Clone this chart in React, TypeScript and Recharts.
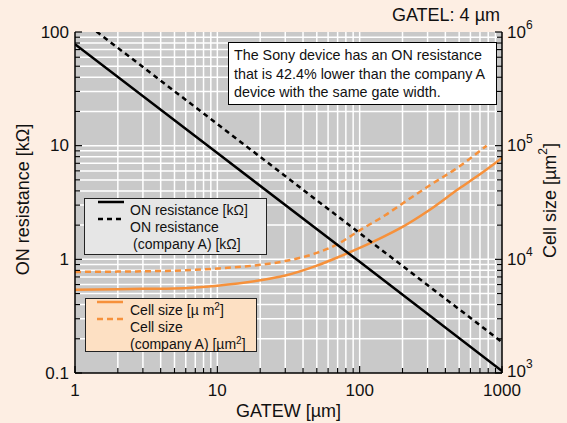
import React from 'react'
import { ComposedChart, Line, XAxis, YAxis, ReferenceLine, ReferenceArea } from 'recharts'

// ON resistance [kΩ] vs gate width (left axis)
const gateW = [1, 10, 100, 1000]
const onRes = [78, 8.6, 0.95, 0.104]
const onResA = [141, 15.5, 1.7, 0.187]

// cell size [µm²] vs gate width (right axis)
const cellW = [1, 2, 3, 5, 10, 20, 30, 50, 70, 100, 150, 200, 300, 500, 700, 1000]
const cellSize = [5400, 5450, 5500, 5550, 5870, 6540, 7200, 8800, 10400, 12600, 16000, 19300, 26500, 42000, 56000, 78000]
const cellWA = [1, 2, 3, 5, 10, 20, 30, 50, 70, 100, 150, 200, 300, 500, 780]
const cellSizeA = [7750, 7800, 7850, 7950, 8300, 8950, 9650, 11400, 13600, 18000, 24300, 31000, 43500, 65500, 100000]

const xTicks = [1, 2, 3, 4, 5, 6, 7, 8, 9, 10, 20, 30, 40, 50, 60, 70, 80, 90, 100, 200, 300, 400, 500, 600, 700, 800, 900, 1000]
const xDecades = [1, 10, 100, 1000]
const leftTicks = [0.1, 0.2, 0.3, 0.4, 0.5, 0.6, 0.7, 0.8, 0.9, 1, 2, 3, 4, 5, 6, 7, 8, 9, 10, 20, 30, 40, 50, 60, 70, 80, 90, 100]
const leftDecades = [0.1, 1, 10, 100]
const leftLabels = ['0.1', '1', '10', '100']
const rightTicks = [1000, 2000, 3000, 4000, 5000, 6000, 7000, 8000, 9000, 10000, 20000, 30000, 40000, 50000, 60000, 70000, 80000, 90000, 100000, 200000, 300000, 400000, 500000, 600000, 700000, 800000, 900000, 1000000]
const rightDecades = [1000, 10000, 100000, 1000000]
const rightExp = ['3', '4', '5', '6']

const FONT = '"Liberation Sans", Arial, Helvetica, sans-serif'
const BG = '#fdeee3'
const PLOT = '#c9c9c9'
const ORANGE = '#f6913b'

const toRows = (xs: number[], ys: number[]) => xs.map((w, i) => ({ w, v: ys[i] }))

function BottomTick(props: any) {
  const { x, y, payload } = props
  const i = xDecades.indexOf(payload.value)
  return (
    <g>
      <line x1={x} x2={x} y1={y} y2={y - (i >= 0 ? 7 : 5)} stroke="#000" strokeWidth={1.2} />
      {i >= 0 && (
        <text x={x} y={y + 17} textAnchor="middle" dominantBaseline="central" fontSize={17} fontFamily={FONT} fill="#111">
          {payload.value}
        </text>
      )}
    </g>
  )
}

function TopTick(props: any) {
  const { x, y, payload } = props
  const major = xDecades.includes(payload.value)
  return <line x1={x} x2={x} y1={y} y2={y + (major ? 7 : 5)} stroke="#000" strokeWidth={1.2} />
}

function LeftTick(props: any) {
  const { x, y, payload } = props
  const i = leftDecades.indexOf(payload.value)
  return (
    <g>
      <line x1={x} x2={x + (i >= 0 ? 7 : 5)} y1={y} y2={y} stroke="#000" strokeWidth={1.2} />
      {i >= 0 && (
        <text x={x - 6} y={y} textAnchor="end" dominantBaseline="central" fontSize={17} fontFamily={FONT} fill="#111">
          {leftLabels[i]}
        </text>
      )}
    </g>
  )
}

function RightTick(props: any) {
  const { x, y, payload } = props
  const i = rightDecades.indexOf(payload.value)
  return (
    <g>
      <line x1={x} x2={x - (i >= 0 ? 7 : 5)} y1={y} y2={y} stroke="#000" strokeWidth={1.2} />
      {i >= 0 && (
        <text x={x + 5} y={y - (i === 0 ? 2 : 0)} dominantBaseline="central" fontSize={17} fontFamily={FONT} fill="#111">
          10<tspan dy={-7} fontSize={12}>{rightExp[i]}</tspan>
        </text>
      )}
    </g>
  )
}

const Sample = ({ color, dash }: { color: string; dash?: string }) => (
  <svg width={26} height={6} style={{ position: 'absolute', left: 0, top: -3 }}>
    <line x1={0} x2={26} y1={3} y2={3} stroke={color} strokeWidth={2.5} strokeDasharray={dash} />
  </svg>
)

const row = (top: number, left: number): React.CSSProperties => ({
  position: 'absolute', top, left, lineHeight: '16px', marginTop: -8, whiteSpace: 'nowrap',
})

const Sup = ({ children }: { children: React.ReactNode }) => (
  <span style={{ fontSize: 10, position: 'relative', top: -5 }}>{children}</span>
)

export default function App() {
  return (
    <div style={{ position: 'absolute', left: 0, top: 0, width: 567, height: 423, background: BG, fontFamily: FONT, color: '#111' }}>
      <ComposedChart width={567} height={423} margin={{ top: 32, right: 0, bottom: 0, left: 0 }}>
        <XAxis
          dataKey="w" type="number" scale="log" domain={[1, 1000]} allowDataOverflow
          ticks={xTicks} interval={0} tickSize={0} tickMargin={0} tickLine={false} height={50}
          tick={BottomTick} axisLine={{ stroke: '#000', strokeWidth: 1.5 }}
          label={(p: any) => (
            <text x={p.viewBox.x + p.viewBox.width / 2} y={p.viewBox.y + 38} textAnchor="middle" dominantBaseline="central" fontSize={18} fontFamily={FONT} fill="#111">
              GATEW [µm]
            </text>
          )}
        />
        <XAxis
          xAxisId="top" orientation="top" dataKey="w" type="number" scale="log" domain={[1, 1000]} allowDataOverflow
          ticks={xTicks} interval={0} tickSize={0} tickMargin={0} tickLine={false} height={0}
          tick={TopTick} axisLine={{ stroke: '#000', strokeWidth: 1.5 }}
        />
        <YAxis
          type="number" scale="log" domain={[0.1, 100]} allowDataOverflow width={75}
          ticks={leftTicks} interval={0} tickSize={0} tickMargin={0} tickLine={false}
          tick={LeftTick} axisLine={{ stroke: '#000', strokeWidth: 1.5 }}
          label={(p: any) => {
            const cx = p.viewBox.x + 23
            const cy = p.viewBox.y + p.viewBox.height / 2 - 3
            return (
              <text x={cx} y={cy} transform={`rotate(-90 ${cx} ${cy})`} textAnchor="middle" dominantBaseline="central" fontSize={18} fontFamily={FONT} fill="#111">
                ON resistance [kΩ]
              </text>
            )
          }}
        />
        <YAxis
          yAxisId="right" orientation="right" type="number" scale="log" domain={[1000, 1000000]} allowDataOverflow width={65}
          ticks={rightTicks} interval={0} tickSize={0} tickMargin={0} tickLine={false}
          tick={RightTick} axisLine={{ stroke: '#000', strokeWidth: 1.5 }}
          label={(p: any) => {
            const cx = p.viewBox.x + 48
            const cy = p.viewBox.y + p.viewBox.height / 2 - 2
            return (
              <text x={cx} y={cy} transform={`rotate(-90 ${cx} ${cy})`} textAnchor="middle" dominantBaseline="central" fontSize={18} fontFamily={FONT} fill="#111">
                Cell size [µm<tspan dy={-7} fontSize={12}>2</tspan><tspan dy={7}>]</tspan>
              </text>
            )
          }}
        />

        <ReferenceArea x1={1} x2={1000} y1={0.1} y2={100} fill={PLOT} fillOpacity={1} stroke="none" />
        {xTicks.slice(1, -1).map((t) => (
          <ReferenceLine key={'gx' + t} x={t} stroke="#fff" strokeWidth={1.5} />
        ))}
        {leftTicks.slice(1, -1).map((t) => (
          <ReferenceLine key={'gy' + t} y={t} stroke="#fff" strokeWidth={1.5} />
        ))}

        <Line data={toRows(cellW, cellSize)} yAxisId="right" dataKey="v" type="monotone" stroke={ORANGE} strokeWidth={2.5} dot={false} isAnimationActive={false} />
        <Line data={toRows(cellWA, cellSizeA)} yAxisId="right" dataKey="v" type="monotone" stroke={ORANGE} strokeWidth={2.5} strokeDasharray="6 4" dot={false} isAnimationActive={false} />
        <Line data={toRows(gateW, onRes)} dataKey="v" type="linear" stroke="#000" strokeWidth={2.5} dot={false} isAnimationActive={false} />
        <Line data={toRows(gateW, onResA)} dataKey="v" type="linear" stroke="#000" strokeWidth={2.5} strokeDasharray="5 4" dot={false} isAnimationActive={false} />
      </ComposedChart>

      <div style={{ position: 'absolute', right: 67, top: 5, fontSize: 18, lineHeight: '20px' }}>GATEL: 4 µm</div>

      <div style={{ position: 'absolute', left: 228, top: 42, width: 262, height: 58, background: '#fff', border: '1.5px solid #000', fontSize: 14.3, lineHeight: '18.5px', padding: '3px 0 0 5px', whiteSpace: 'nowrap' }}>
        <div>The Sony device has an ON resistance</div>
        <div>that is 42.4% lower than the company A</div>
        <div>device with the same gate width.</div>
      </div>

      <div style={{ position: 'absolute', left: 84, top: 198, width: 181, height: 55, background: '#e6e6e6', border: '1.5px solid #222', fontSize: 14 }}>
        <div style={row(11, 13)}><Sample color="#000" /></div>
        <div style={row(11, 45)}>ON resistance [kΩ]</div>
        <div style={row(28, 13)}><Sample color="#000" dash="5 4" /></div>
        <div style={row(28, 45)}>ON resistance</div>
        <div style={row(45, 48)}>(company A) [kΩ]</div>
      </div>

      <div style={{ position: 'absolute', left: 85, top: 298, width: 170, height: 52, background: '#fde0c3', border: '1.5px solid #222', fontSize: 14 }}>
        <div style={row(11, 11)}><Sample color={ORANGE} /></div>
        <div style={row(11, 44)}>Cell size [µ m<Sup>2</Sup>]</div>
        <div style={row(28, 11)}><Sample color={ORANGE} dash="6 4" /></div>
        <div style={row(28, 44)}>Cell size</div>
        <div style={row(45, 44)}>(company A) [µm<Sup>2</Sup>]</div>
      </div>
    </div>
  )
}
